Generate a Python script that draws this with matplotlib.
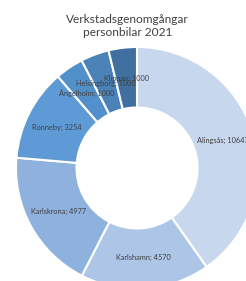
import matplotlib
matplotlib.use('Agg')
import matplotlib.pyplot as plt
import numpy as np

# Verkstadsgenomgångar per ort
orter = ['Alingsås', 'Karlshamn', 'Karlskrona', 'Ronneby', 'Ängelholm', 'Helsingborg', 'Klippan']
antal = [10647, 4570, 4977, 3254, 1000, 1000, 1000]
farger = ['#c6d7ee', '#adc5e7', '#8eb2dd', '#5e9bd6', '#5290cb', '#4b82b8', '#40709f']

plt.rcParams['font.family'] = ['Lato', 'DejaVu Sans']

fig = plt.figure(figsize=(2.46, 2.81), dpi=100)
# donut is cut by the right and bottom edge, like the original
ax = fig.add_axes([16 / 246, 1 - 289 / 281, 242 / 246, 242 / 281])

wedges, _ = ax.pie(antal, colors=farger, startangle=90, counterclock=False,
                   radius=1.0, wedgeprops=dict(width=0.5, edgecolor='white', linewidth=1.5))

total = sum(antal)
start = 0.0
for ort, v in zip(orter, antal):
    mid = start + v / total * 360 / 2
    start += v / total * 360
    a = np.deg2rad(mid)
    ax.text(0.745 * np.sin(a), 0.745 * np.cos(a), f'{ort}; {v}',
            ha='center', va='center', fontsize=5.3, color='#404040')

ax.set_xlim(-1, 1)
ax.set_ylim(-1, 1)
ax.set_aspect('equal')
ax.axis('off')

fig.text(127.5 / 246, 1 - 26 / 281, 'Verkstadsgenomgångar\npersonbilar 2021',
         ha='center', va='center', fontsize=8.6, color='#404040', linespacing=1.25)

fig.savefig('out.png', dpi=100)
